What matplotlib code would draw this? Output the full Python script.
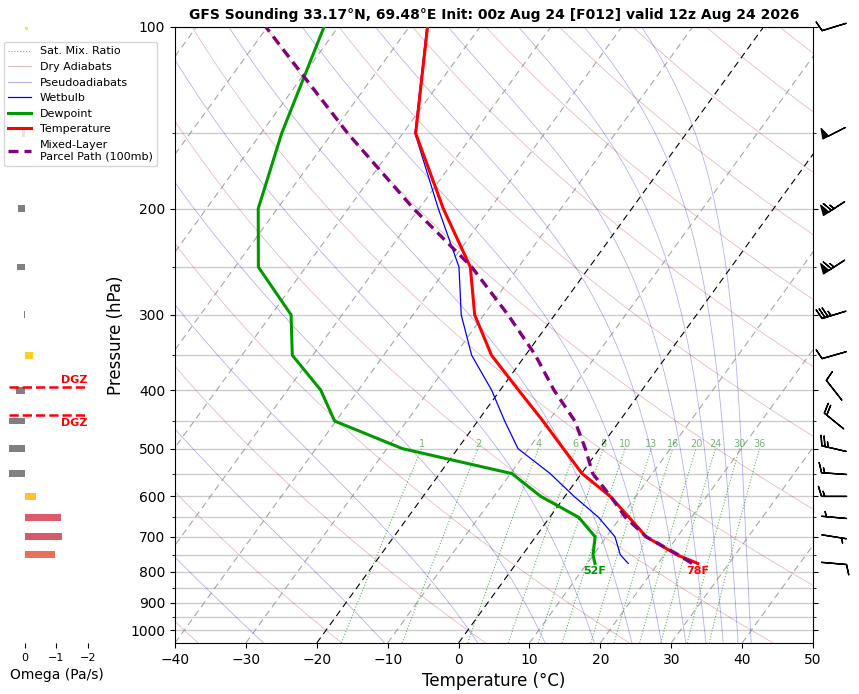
import numpy as np
import matplotlib
matplotlib.use('Agg')
import matplotlib.pyplot as plt
import matplotlib.transforms as transforms
from matplotlib.lines import Line2D

# sounding (hPa, degC)
pres = [775, 750, 700, 650, 600, 550, 500, 450, 400, 350, 300, 250, 200, 150, 100]
temp = [25.6, 21.8, 15.6, 11.2, 6.4, 0.1, -5.1, -10.8, -17.4, -24.8, -31.3, -36.8, -46.6, -58.2, -67.4]
dwpt = [11.1, 9.95, 8.4, 4.1, -3.4, -9.8, -27.8, -40.2, -45.3, -52.9, -57.2, -66.7, -72.7, -77.1, -82.0]
wetb = [15.8, 13.8, 11.2, 6.9, 1.3, -4.4, -11.5, -16.2, -21.2, -27.6, -33.2, -38.4, -47.3, -58.3, -67.5]
parcel = [24.8, 22.0, 15.6, 10.7, 6.45, 1.6, -2.0, -6.3, -12.4, -18.6, -26.6, -36.6, -50.8, -67.8, -90.2]

# winds (kt, deg)
wind_pres = [775, 700, 650, 600, 550, 500, 450, 400, 350, 300, 250, 200, 150, 100]
wind_spd = [10, 5, 5, 15, 15, 25, 20, 10, 10, 35, 65, 65, 50, 10]
wind_dir = [95, 99, 275, 270, 274, 283, 309, 322, 254, 253, 237, 237, 243, 253]

# omega (Pa/s)
omega_pres = [750, 700, 650, 600, 550, 500, 450, 400, 350, 300, 250, 200, 150, 100]
omega = [-0.97, -1.19, -1.16, -0.35, 0.6, 0.65, 0.7, 0.29, -0.26, 0.03, 0.26, 0.23, 0.1, -0.08]

mix_ratios = [1, 2, 4, 6, 8, 10, 13, 16, 20, 24, 30, 36]  # g/kg
dry_t0 = np.arange(-40, 251, 20)            # degC at 1000 hPa
moist_thetae = np.arange(223.15, 464, 20)   # K

title = 'GFS Sounding 33.17°N, 69.48°E Init: 00z Aug 24 [F012] valid 12z Aug 24 2026'


def sat_vap(t):
    return 6.112 * np.exp(17.67 * t / (t + 243.5))


def theta_e(t, p):
    es = sat_vap(t)
    rs = 0.622 * es / (p - es)
    tk = t + 273.15
    return tk * (1000 / p) ** 0.2857 * np.exp(2.501e6 * rs / (1005.7 * tk))


fig = plt.figure(figsize=(8.59, 6.94), dpi=100)
ax = fig.add_axes([175 / 859, 51 / 694, 638 / 859, 616 / 694])
ax.set_yscale('log')
ax.set_xlim(-40, 50)
ax.set_ylim(1050, 100)
ax.autoscale(False)
skew = ax.transScale + ax.transLimits + transforms.Affine2D().skew_deg(35, 0) + ax.transAxes

# background lines
p_all = np.linspace(1050, 100, 200)
for t0 in dry_t0:
    th = t0 + 273.15
    ax.plot(th * (p_all / 1000) ** 0.2857 - 273.15, p_all, transform=skew,
            color='firebrick', alpha=0.3, lw=0.6, zorder=1)

t_grid = np.linspace(-130, 60, 2000)
moist = np.full((len(p_all), len(moist_thetae)), np.nan)
for i, p in enumerate(p_all):
    ok = sat_vap(t_grid) < 0.5 * p
    te = theta_e(t_grid[ok], p)
    vals = np.interp(moist_thetae, te, t_grid[ok])
    vals[moist_thetae > te.max()] = np.nan
    moist[i] = vals
for j in range(len(moist_thetae)):
    ax.plot(moist[:, j], p_all, transform=skew, color='mediumblue', alpha=0.3, lw=0.6, zorder=1)

p_mix = np.linspace(1050, 500, 50)
for w in mix_ratios:
    e = p_mix * w / 1000 / (0.622 + w / 1000)
    lg = np.log(e / 6.112)
    td = 243.5 * lg / (17.67 - lg)
    ax.plot(td, p_mix, transform=skew, color='green', ls=':', lw=0.8, alpha=0.6, zorder=1)
    ax.text(td[-1], 500, str(w), transform=skew, ha='center', va='bottom',
            fontsize=7, color='green', alpha=0.55, clip_on=True)

for t in np.arange(-120, 51, 10):
    if t in (0, -20):
        ax.plot([t, t], [1050, 100], transform=skew, color='black', ls=(0, (6, 4)), lw=0.8, zorder=1)
    else:
        ax.plot([t, t], [1050, 100], transform=skew, color='gray', ls=(0, (6, 4)), lw=0.8, alpha=0.7, zorder=1)

# profiles
ax.plot(wetb, pres, transform=skew, color='blue', lw=0.9, zorder=3)
ax.plot(dwpt, pres, transform=skew, color='#009a00', lw=2.2, zorder=4)
ax.plot(temp, pres, transform=skew, color='red', lw=2.2, zorder=4)
ax.plot(parcel, pres, transform=skew, color='purple', lw=2.4, ls=(0, (3, 1.8)), zorder=5)

lab_trans = transforms.offset_copy(skew, fig=fig, y=-3, units='dots')
ax.text(temp[0], pres[0], f'{round(temp[0] * 9 / 5 + 32)}F', transform=lab_trans, ha='center', va='top',
        color='red', fontsize=8, fontweight='bold')
ax.text(dwpt[0], pres[0], f'{round(dwpt[0] * 9 / 5 + 32)}F', transform=lab_trans, ha='center', va='top',
        color='#009a00', fontsize=8, fontweight='bold')

# barbs
rad = np.radians(wind_dir)
u = -np.array(wind_spd) * np.sin(rad)
v = -np.array(wind_spd) * np.cos(rad)
ax.barbs(np.full(len(wind_pres), 1.033), wind_pres, u, v, transform=ax.get_yaxis_transform(),
         clip_on=False, length=6, pivot='middle', lw=1)

major = list(range(100, 1001, 100))
ax.set_yticks(major, [str(p) for p in major])
ax.set_yticks(list(range(150, 1000, 100)), minor=True)
ax.yaxis.set_minor_formatter(matplotlib.ticker.NullFormatter())
ax.tick_params(axis='y', which='both', right=True)
ax.grid(True, which='both', axis='y', color='0.8', lw=1)
ax.set_axisbelow(True)
ax.set_xticks(range(-40, 51, 10))
ax.set_xlim(-40, 50)
ax.set_ylim(1050, 100)
ax.set_xlabel('Temperature (°C)', fontsize=12)
ax.set_ylabel('Pressure (hPa)', fontsize=12)
ax.set_title(title, fontsize=10, fontweight='bold')

# omega panel
axw = fig.add_axes([9.4 / 859, 51 / 694, 94 / 859, 616 / 694])
axw.set_yscale('log')
colors = ['gray' if w > 0 else plt.cm.plasma((w + 2.7) / 2.7) for w in omega]
axw.barh(omega_pres, omega, height=np.array(omega_pres) * 0.026, color=colors)
axw.set_xlim(0.5, -2.5)
axw.set_ylim(1050, 100)
for s in axw.spines.values():
    s.set_visible(False)
axw.set_yticks([])
axw.set_yticks([], minor=True)
axw.set_xticks([0, -1, -2])
axw.tick_params(axis='x', labelsize=8)
axw.set_xlabel('Omega (Pa/s)', fontsize=10)

lt = np.log(pres)[::-1]
tt = np.array(temp)[::-1]
p18 = np.exp(np.interp(-18, tt, lt))
p12 = np.exp(np.interp(-12, tt, lt))
for p, va in ((p18, 'bottom'), (p12, 'top')):
    axw.hlines(p, 0.5, -2, color='red', ls='--', lw=1.8)
    axw.text(-2, p * (0.99 if va == 'bottom' else 1.01), 'DGZ',
             ha='right', va=va, color='red', fontsize=8, fontweight='bold')

handles = [
    Line2D([], [], color='green', ls=':', lw=0.8, alpha=0.6),
    Line2D([], [], color='firebrick', lw=0.8, alpha=0.3),
    Line2D([], [], color='mediumblue', lw=0.8, alpha=0.3),
    Line2D([], [], color='blue', lw=0.9),
    Line2D([], [], color='#009a00', lw=2.2),
    Line2D([], [], color='red', lw=2.2),
    Line2D([], [], color='purple', lw=2.4, ls=(0, (3, 1.8))),
]
labels = ['Sat. Mix. Ratio', 'Dry Adiabats', 'Pseudoadiabats', 'Wetbulb', 'Dewpoint',
          'Temperature', 'Mixed-Layer\nParcel Path (100mb)']
fig.legend(handles, labels, loc='upper left', bbox_to_anchor=(4 / 859, 1 - 42 / 694),
           borderaxespad=0, fontsize=8)

fig.savefig('out.png', dpi=100)
